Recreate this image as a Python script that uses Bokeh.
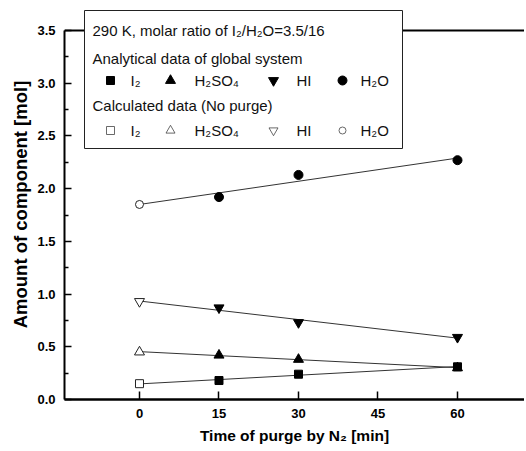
import numpy as np
from bokeh.plotting import figure
from bokeh.models import Range1d, FixedTicker, BoxAnnotation, Label, Span, PrintfTickFormatter
from bokeh.embed import file_html
from bokeh.resources import INLINE

# ---------------- data ----------------
time_calc = [0]
time_meas = [15, 30, 60]

i2_calc = [0.15]
i2_meas = [0.18, 0.24, 0.31]
h2so4_calc = [0.45]
h2so4_meas = [0.42, 0.38, 0.30]
hi_calc = [0.93]
hi_meas = [0.87, 0.73, 0.59]
h2o_calc = [1.85]
h2o_meas = [1.92, 2.13, 2.27]

x_ticks = [0, 15, 30, 45, 60]
y_ticks = [0.0, 0.5, 1.0, 1.5, 2.0, 2.5, 3.0, 3.5]
y_minor = [0.25, 0.75, 1.25, 1.75, 2.25, 2.75, 3.25]

title_text = "290 K, molar ratio of I\u2082/H\u2082O=3.5/16"
header_meas = "Analytical data of global system"
header_calc = "Calculated data (No purge)"
species = ["I\u2082", "H\u2082SO\u2084", "HI", "H\u2082O"]
x_label = "Time of purge by N\u2082 [min]"
y_label = "Amount of component [mol]"

# ---------------- layout (page pixels; page has no margin) ----------------
W, H = 524, 448
BL, BT, BB = 64, 9, 49
FRAME_L = BL
FRAME_T = BT
FRAME_W = W - BL
FRAME_H = H - BT - BB
PX_PER_MIN = 5.3
X0 = -14.15
X1 = X0 + FRAME_W / PX_PER_MIN
Y0 = 0.0
Y_TOP = 3.5
TOP_LINE_PX = 21          # distance (px) from frame top down to the y = 3.5 line
Y1 = Y_TOP + TOP_LINE_PX * (Y_TOP - Y0) / (FRAME_H - TOP_LINE_PX)


def dx(px):
    return X0 + (px - FRAME_L) * (X1 - X0) / FRAME_W


def dy(py):
    return Y1 - (py - FRAME_T) * (Y1 - Y0) / FRAME_H


FONT = "Liberation Sans"

p = figure(width=W, height=H, x_range=Range1d(X0, X1), y_range=Range1d(Y0, Y1),
           output_backend="svg", toolbar_location=None,
           min_border_left=BL, min_border_right=0, min_border_top=BT, min_border_bottom=BB,
           x_axis_label=x_label, y_axis_label=y_label)
p.grid.visible = False
p.outline_line_color = None
p.background_fill_color = "white"
p.border_fill_color = "white"

xa = p.xaxis[0]
xa.ticker = FixedTicker(ticks=x_ticks)
xa.major_tick_in = 8
xa.major_tick_out = 0
xa.minor_tick_in = 0
xa.minor_tick_out = 0
xa.axis_line_width = 2.5
xa.major_tick_line_width = 1.5
xa.major_label_standoff = 9
xa.major_label_text_font = FONT
xa.major_label_text_font_style = "bold"
xa.major_label_text_font_size = "13px"
xa.major_label_text_color = "black"
xa.axis_label_standoff = 6
xa.axis_label_text_font = FONT
xa.axis_label_text_font_style = "bold"
xa.axis_label_text_font_size = "15.5px"
xa.axis_label_text_color = "black"

ya = p.yaxis[0]
ya.ticker = FixedTicker(ticks=y_ticks, minor_ticks=y_minor)
ya.formatter = PrintfTickFormatter(format="%.1f")
ya.bounds = (Y0, Y_TOP)
ya.major_tick_in = 7
ya.major_tick_out = 0
ya.minor_tick_in = 4
ya.minor_tick_out = 0
ya.axis_line_width = 2
ya.major_tick_line_width = 1.5
ya.minor_tick_line_width = 1.5
ya.major_label_standoff = 9
ya.major_label_text_font = FONT
ya.major_label_text_font_style = "bold"
ya.major_label_text_font_size = "13px"
ya.major_label_text_color = "black"
ya.axis_label_standoff = 3
ya.axis_label_text_font = FONT
ya.axis_label_text_font_style = "bold"
ya.axis_label_text_font_size = "18.5px"
ya.axis_label_text_color = "black"

p.add_layout(Span(location=Y_TOP, dimension="width", line_color="black", line_width=2))

# ---------------- fit lines and points ----------------
series = [
    (i2_calc, i2_meas, "square", 8, 8),
    (h2so4_calc, h2so4_meas, "triangle", 10, 10),
    (hi_calc, hi_meas, "inverted_triangle", 10, 10),
    (h2o_calc, h2o_meas, "circle", 9, 8),
]
LINE = "#333333"
for calc, meas, mk, s_f, s_o in series:
    xs = np.array(time_calc + time_meas, dtype=float)
    ys = np.array(calc + meas, dtype=float)
    coef = np.polyfit(xs, ys, 1)
    fx = np.array([xs.min(), xs.max()])
    p.line(fx, np.polyval(coef, fx), line_color=LINE, line_width=1)

for calc, meas, mk, s_f, s_o in series:
    p.scatter(time_meas, meas, marker=mk, size=s_f, fill_color="black", line_color="black")
    p.scatter(time_calc, calc, marker=mk, size=s_o, fill_color="white", line_color="#222222",
              line_width=1)

# ---------------- legend ----------------
box = BoxAnnotation(left=dx(84), right=dx(402), top=dy(10), bottom=dy(148),
                    fill_color="white", fill_alpha=1.0, line_color="#222222", line_width=1,
                    line_alpha=1.0)
p.add_layout(box)

TXT = dict(text_font=FONT, text_font_size="15px", text_color="#111111",
           text_baseline="middle", text_align="left", level="overlay")
p.add_layout(Label(x=dx(92), y=dy(30), text=title_text, **TXT))
p.add_layout(Label(x=dx(92), y=dy(58), text=header_meas, **TXT))
p.add_layout(Label(x=dx(92), y=dy(105), text=header_calc, **TXT))

mk_px = [110, 170, 273, 342]
txt_px = [130, 194, 296, 360]
row1, row2 = 80, 130
leg_f = [("square", 8), ("triangle", 10), ("inverted_triangle", 10), ("circle", 9)]
leg_o = [("square", 8), ("triangle", 9), ("inverted_triangle", 9), ("circle", 7)]
for i, name in enumerate(species):
    r = p.scatter([dx(mk_px[i])], [dy(row1)], marker=leg_f[i][0], size=leg_f[i][1],
                  fill_color="black", line_color="black")
    r.level = "overlay"
    r = p.scatter([dx(mk_px[i])], [dy(row2)], marker=leg_o[i][0], size=leg_o[i][1],
                  fill_color="white", line_color="#444444", line_width=0.8)
    r.level = "overlay"
    p.add_layout(Label(x=dx(txt_px[i]), y=dy(row1), text=name, **TXT))
    p.add_layout(Label(x=dx(txt_px[i]), y=dy(row2), text=name, **TXT))

open("out.html", "w").write(file_html(p, INLINE))
